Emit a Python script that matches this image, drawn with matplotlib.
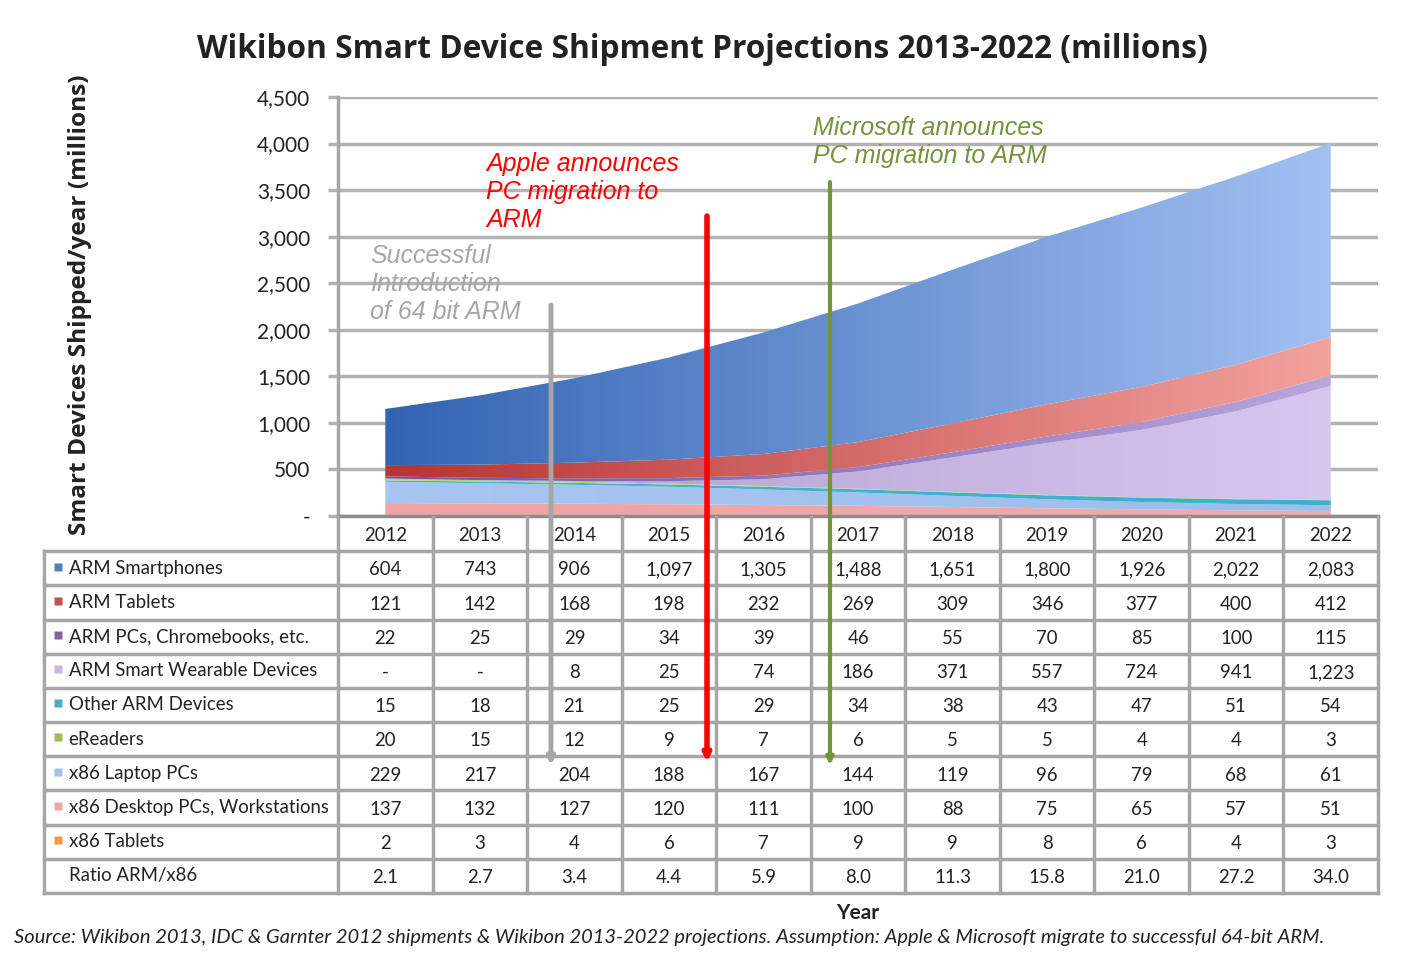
import matplotlib.pyplot as plt
import numpy as np
from matplotlib.colors import LinearSegmentedColormap

years = [2012, 2013, 2014, 2015, 2016, 2017, 2018, 2019, 2020, 2021, 2022]
arm_phones = [604, 743, 906, 1097, 1305, 1488, 1651, 1800, 1926, 2022, 2083]
arm_tablets = [121, 142, 168, 198, 232, 269, 309, 346, 377, 400, 412]
arm_pcs = [22, 25, 29, 34, 39, 46, 55, 70, 85, 100, 115]
arm_wear = [0, 0, 8, 25, 74, 186, 371, 557, 724, 941, 1223]
arm_other = [15, 18, 21, 25, 29, 34, 38, 43, 47, 51, 54]
ereaders = [20, 15, 12, 9, 7, 6, 5, 5, 4, 4, 3]
x86_laptop = [229, 217, 204, 188, 167, 144, 119, 96, 79, 68, 61]
x86_desktop = [137, 132, 127, 120, 111, 100, 88, 75, 65, 57, 51]
x86_tablets = [2, 3, 4, 6, 7, 9, 9, 8, 6, 4, 3]
ratio = [2.1, 2.7, 3.4, 4.4, 5.9, 8.0, 11.3, 15.8, 21.0, 27.2, 34.0]

row_labels = ['ARM Smartphones', 'ARM Tablets', 'ARM PCs, Chromebooks, etc.',
              'ARM Smart Wearable Devices', 'Other ARM Devices', 'eReaders',
              'x86 Laptop PCs', 'x86 Desktop PCs, Workstations', 'x86 Tablets']
row_values = [arm_phones, arm_tablets, arm_pcs, arm_wear, arm_other,
              ereaders, x86_laptop, x86_desktop, x86_tablets]
key_colors = ['#4f81bd', '#c0504d', '#8064a2', '#c9b8e6', '#4bacc6',
              '#9bbb59', '#a6c3f0', '#f2a7a7', '#f79646']

# stacking order bottom -> top, with (left, right) gradient colours
stack = [
    (x86_tablets, '#f79646', '#f79646'),
    (x86_desktop, '#f0a4a4', '#f2aaaa'),
    (x86_laptop, '#a9c6f2', '#9ebdeb'),
    (arm_other, '#49b4d0', '#3fb0cc'),
    (ereaders, '#b5d86a', '#a9d060'),
    (arm_wear, '#ad9ccd', '#d6c7ef'),
    (arm_pcs, '#6f55a5', '#b9a6dc'),
    (arm_tablets, '#b53535', '#f3a29e'),
    (arm_phones, '#3364b2', '#a2c0f2'),
]

grid_c = '#b3b3b3'
fig = plt.figure(figsize=(14.08, 9.57), dpi=100)
ax = fig.add_axes([338/1408, 1-516/957, 1040/1408, 419/957])
x = np.arange(len(years))

base = np.zeros(len(years))
for vals, c0, c1 in stack:
    top = base + np.array(vals)
    poly = ax.fill_between(x, base, top, facecolor='none', edgecolor='none', zorder=2)
    cmap = LinearSegmentedColormap.from_list('g', [c0, c1])
    img = ax.imshow(np.linspace(0, 1, 256).reshape(1, -1), cmap=cmap,
                    extent=[x[0], x[-1], 0, 4500], aspect='auto', zorder=2)
    img.set_clip_path(poly.get_paths()[0], transform=ax.transData)
    base = top

ax.set_xlim(-0.5, 10.5)
ax.set_ylim(0, 4500)
ax.set_yticks(range(0, 4501, 500))
ax.set_yticklabels(['-' if v == 0 else f'{v:,}' for v in range(0, 4501, 500)],
                   fontsize=15, family='Lato', color='#222222')
ax.set_xticks([])
ax.grid(axis='y', color=grid_c, lw=2.5)
ax.set_axisbelow(True)
ax.tick_params(axis='y', length=7, width=2.5, color=grid_c, pad=13)
for s in ['top', 'right']:
    ax.spines[s].set_visible(False)
ax.spines['left'].set_color('#a6a6a6')
ax.spines['left'].set_linewidth(2.5)
ax.spines['bottom'].set_color('#8c8c8c')
ax.spines['bottom'].set_linewidth(2.5)
ax.patch.set_alpha(0)

# data table under the plot
tax = fig.add_axes([44/1408, 1-893/957, 1334/1408, 376/957])
xmin = -0.5 - 294/94.5
tax.set_xlim(xmin, 10.5)
tax.set_ylim(11, 0)
tax.axis('off')
line_c = '#a6a6a6'
for k in range(12):
    tax.plot([-0.5 + k, -0.5 + k], [0, 11], color=line_c, lw=2.5, clip_on=False)
tax.plot([xmin, xmin], [1, 11], color=line_c, lw=2.5, clip_on=False)
for r in range(1, 12):
    tax.plot([xmin, 10.5], [r, r], color=line_c, lw=2.5, clip_on=False)

fs = 13.4
for i, yr in enumerate(years):
    tax.text(i, 0.55, str(yr), ha='center', va='center', fontsize=fs, family='Lato', color='#222222')
for r, (lab, vals, kc) in enumerate(zip(row_labels, row_values, key_colors)):
    yy = r + 1.5
    tax.plot(xmin + 0.15, yy - 0.05, marker='s', ms=6, color=kc, mec='none')
    tax.text(xmin + 0.26, yy, lab, ha='left', va='center', fontsize=fs, family='Lato', color='#222222')
    for i, v in enumerate(vals):
        tax.text(i, yy + 0.05, '-' if v == 0 else f'{v:,}', ha='center', va='center',
                 fontsize=fs, family='Lato', color='#222222')
tax.text(xmin + 0.26, 10.5, 'Ratio ARM/x86', ha='left', va='center', fontsize=fs, family='Lato', color='#222222')
for i, v in enumerate(ratio):
    tax.text(i, 10.55, f'{v:.1f}', ha='center', va='center', fontsize=fs, family='Lato', color='#222222')

# event arrows
arrows = [(551, 305, 765, '#a6a6a6', 3.5), (707, 216, 762, '#ff0000', 4), (830, 182, 765, '#76923c', 3)]
for ax_px, y0, y1, c, w in arrows:
    fig.add_artist(plt.Annotation('', xy=(ax_px, 957 - y1), xytext=(ax_px, 957 - y0),
                                  xycoords='figure pixels', textcoords='figure pixels',
                                  arrowprops=dict(arrowstyle='-|>', color=c, lw=w,
                                                  mutation_scale=10, shrinkA=0, shrinkB=0)))

fig.text(370/1408, 1-244/957, 'Successful\nIntroduction\nof 64 bit ARM', color='#a6a6a6',
         fontsize=18, style='italic', family='Liberation Sans', va='top', linespacing=1.2)
fig.text(486/1408, 1-152/957, 'Apple announces\nPC migration to\nARM', color='#ff0000',
         fontsize=18, style='italic', family='Liberation Sans', va='top', linespacing=1.2)
fig.text(813/1408, 1-116/957, 'Microsoft announces\nPC migration to ARM', color='#76923c',
         fontsize=18, style='italic', family='Liberation Sans', va='top', linespacing=1.2)

fig.text(702/1408, 1-49/957, 'Wikibon Smart Device Shipment Projections 2013-2022 (millions)',
         ha='center', va='center', fontsize=22.8, weight='bold', family='Open Sans', color='#222222')
fig.text(80/1408, 1-305/957, 'Smart Devices Shipped/year (millions)', rotation=90,
         ha='center', va='center', fontsize=17.6, weight='bold', family='Open Sans', color='#222222')
fig.text(858/1408, 1-913/957, 'Year', ha='center', va='center', fontsize=15,
         weight='bold', family='Lato', color='#222222')
fig.text(14/1408, 1-937/957, 'Source: Wikibon 2013, IDC & Garnter 2012 shipments & Wikibon 2013-2022 projections. '
         'Assumption: Apple & Microsoft migrate to successful 64-bit ARM.',
         ha='left', va='center', fontsize=14.5, style='italic', family='Lato', color='#222222')

fig.savefig('out.png', dpi=100)
